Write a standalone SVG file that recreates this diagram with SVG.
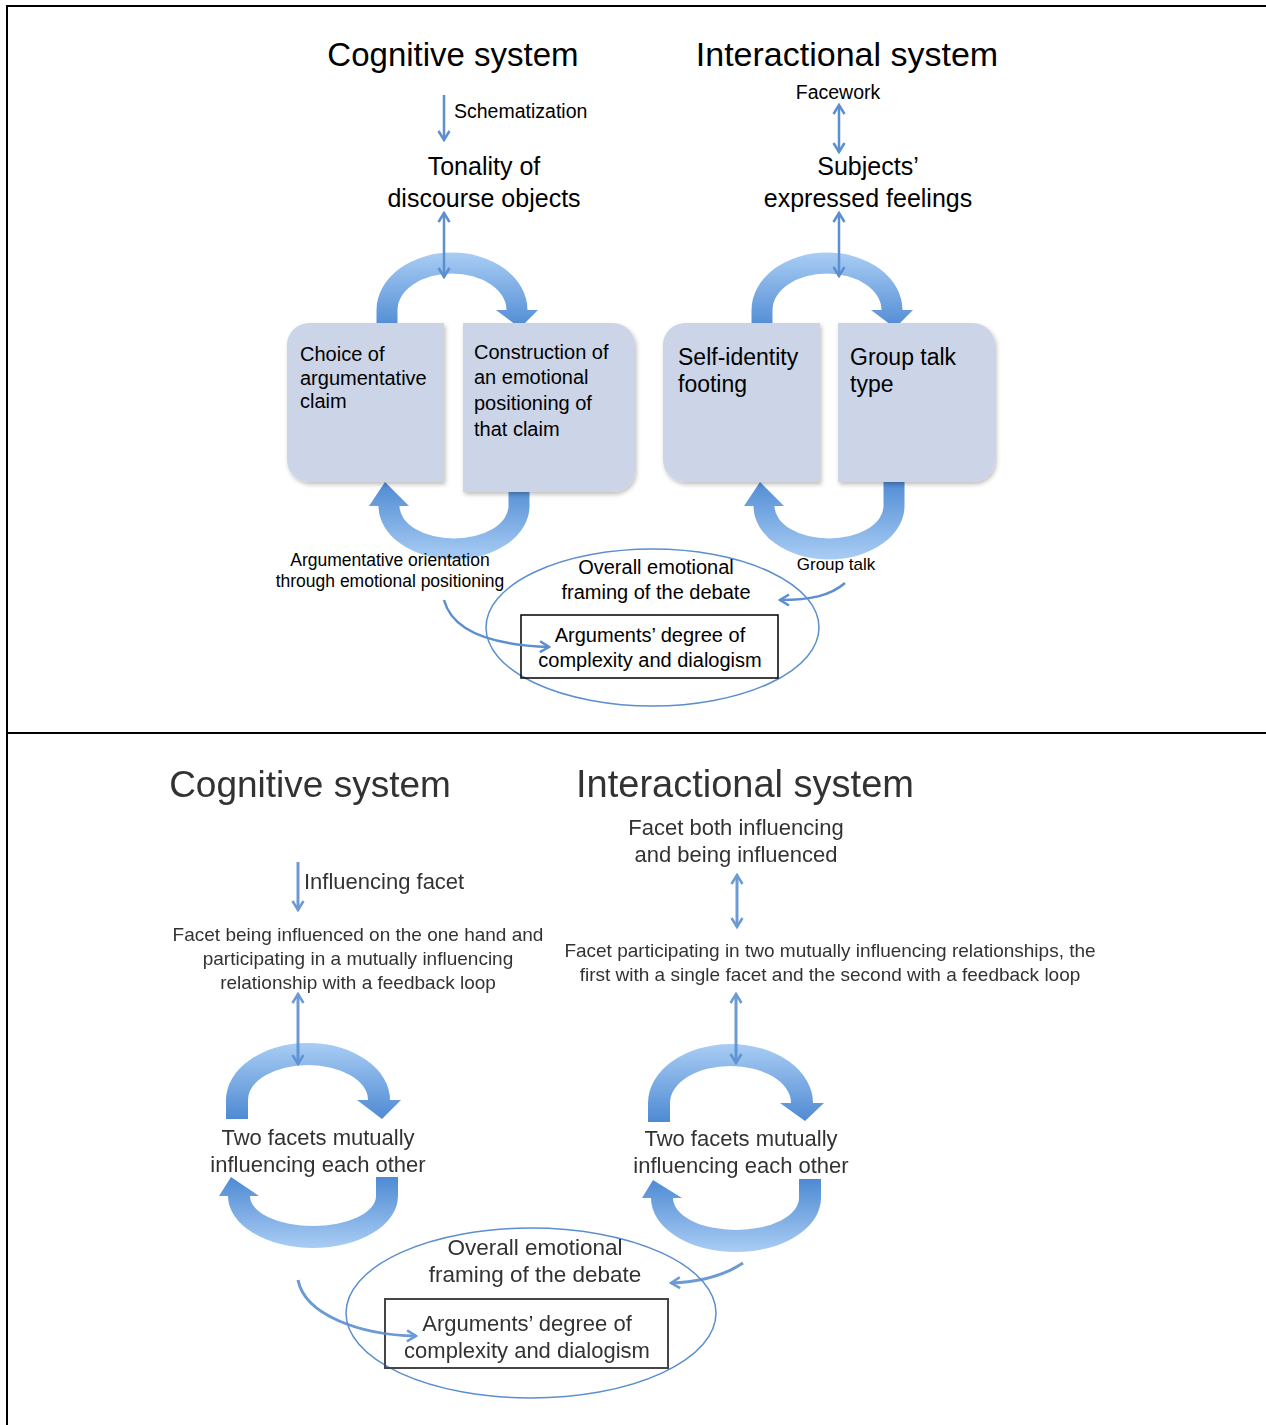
<svg xmlns="http://www.w3.org/2000/svg" width="1266" height="1425" viewBox="0 0 1266 1425">
<style>
  .t { font-family: "Liberation Sans", Arial, sans-serif; fill: #000; }
  .g { font-family: "Liberation Sans", Arial, sans-serif; fill: #333; }
  .m { text-anchor: middle; }
  .frame { stroke: #000; stroke-width: 2; fill: none; }
  .thin { stroke: #5b8fd0; stroke-width: 2.5; fill: none; }
  .thinb { stroke: #5b8fd0; stroke-width: 3; fill: none; opacity: .9; }
  .box { fill: #ccd5e8; filter: url(#sh); }
  .arcT { fill: url(#gT); }
  .arcB { fill: url(#gB); }
  .ell { fill: none; stroke: #5b8fd0; stroke-width: 1.5; }
  .rect { fill: none; stroke: #000; stroke-width: 1.5; }
  .rectb { fill: none; stroke: #444; stroke-width: 2; }
</style>
<defs>
  <linearGradient id="gT" x1="0" y1="0" x2="0" y2="1">
    <stop offset="0" stop-color="#a9cdf4"/>
    <stop offset="1" stop-color="#4e8ad3"/>
  </linearGradient>
  <linearGradient id="gB" x1="0" y1="0" x2="0" y2="1">
    <stop offset="0" stop-color="#4e8ad3"/>
    <stop offset="1" stop-color="#a9cdf4"/>
  </linearGradient>
  <filter id="sh" x="-10%" y="-10%" width="125%" height="125%">
    <feDropShadow dx="1.5" dy="2.5" stdDeviation="2" flood-color="#000" flood-opacity="0.25"/>
  </filter>
  <filter id="soft" x="-5%" y="-5%" width="110%" height="110%">
    <feGaussianBlur stdDeviation="0.55"/>
  </filter>
  <marker id="ah" viewBox="0 0 14 14" refX="12" refY="7" markerWidth="14" markerHeight="14" markerUnits="userSpaceOnUse" orient="auto-start-reverse">
    <path d="M3,1.5 L12,7 L3,12.5" fill="none" stroke="#5b8fd0" stroke-width="2.5"/>
  </marker>
</defs>
<rect width="1266" height="1425" fill="#fff"/>

<g id="frame">
  <line class="frame" x1="6" y1="6" x2="1266" y2="6"/>
  <line class="frame" x1="7" y1="5" x2="7" y2="1425"/>
  <line class="frame" x1="7" y1="733" x2="1266" y2="733"/>
</g>

<!-- TOP PANEL -->
<g id="cycle-arrows-top">
  <path class="arcT" d="M376.5 330 L376.5 310 A75.5 57.5 0 0 1 527.5 310 L538 310 L520 328 L496 310 L506.5 310 A54.5 36.5 0 0 0 397.5 310 L397.5 330 Z"/>
  <path class="arcB" d="M529.5 483 L529.5 506 A75.5 53.5 0 0 1 378.5 506 L369 506 L385 482 L409 506 L399.5 506 A54.5 32.5 0 0 0 508.5 506 L508.5 483 Z"/>
  <path class="arcT" d="M751.5 330 L751.5 310 A75.5 57.5 0 0 1 902.5 310 L913 310 L895 328 L871 310 L881.5 310 A54.5 36.5 0 0 0 772.5 310 L772.5 330 Z"/>
  <path class="arcB" d="M904.5 478 L904.5 506 A75.5 53.5 0 0 1 753.5 506 L744 506 L760 482 L784 506 L774.5 506 A54.5 32.5 0 0 0 883.5 506 L883.5 478 Z"/>
</g>

<g id="choice-box">
  <path class="box" d="M309 323 L444 323 L444 482 L309 482 A22 22 0 0 1 287 460 L287 345 A22 22 0 0 1 309 323 Z"/>
  <text class="t" font-size="20" x="300" y="361">Choice of</text>
  <text class="t" font-size="20" x="300" y="385">argumentative</text>
  <text class="t" font-size="20" x="300" y="408">claim</text>
</g>
<g id="construction-box">
  <path class="box" d="M463 323 L613 323 A22 22 0 0 1 635 345 L635 470 A22 22 0 0 1 613 492 L463 492 Z"/>
  <text class="t" font-size="20" x="474" y="359">Construction of</text>
  <text class="t" font-size="20" x="474" y="384">an emotional</text>
  <text class="t" font-size="20" x="474" y="410">positioning of</text>
  <text class="t" font-size="20" x="474" y="436">that claim</text>
</g>
<g id="self-identity-box">
  <path class="box" d="M685 323 L820 323 L820 482 L685 482 A22 22 0 0 1 663 460 L663 345 A22 22 0 0 1 685 323 Z"/>
  <text class="t" font-size="23" x="678" y="365">Self-identity</text>
  <text class="t" font-size="23" x="678" y="392">footing</text>
</g>
<g id="group-talk-box">
  <path class="box" d="M838 323 L973 323 A22 22 0 0 1 995 345 L995 460 A22 22 0 0 1 973 482 L838 482 Z"/>
  <text class="t" font-size="23" x="850" y="365">Group talk</text>
  <text class="t" font-size="23" x="850" y="392">type</text>
</g>

<g id="titles-top">
  <text class="t m" font-size="33" x="453" y="66">Cognitive system</text>
  <text class="t m" font-size="34" x="847" y="66">Interactional system</text>
</g>
<g id="schematization"><text class="t" font-size="19.5" x="454" y="118">Schematization</text></g>
<g id="tonality">
  <text class="t m" font-size="25" x="484" y="175">Tonality of</text>
  <text class="t m" font-size="25" x="484" y="207">discourse objects</text>
</g>
<g id="facework"><text class="t m" font-size="19.5" x="838" y="99">Facework</text></g>
<g id="subjects">
  <text class="t m" font-size="25" x="868" y="175">Subjects’</text>
  <text class="t m" font-size="25" x="868" y="207">expressed feelings</text>
</g>
<g id="arg-orientation">
  <text class="t m" font-size="17.5" x="390" y="566">Argumentative orientation</text>
  <text class="t m" font-size="17.5" x="390" y="587">through emotional positioning</text>
</g>
<g id="group-talk-label"><text class="t m" font-size="17" x="836" y="570">Group talk</text></g>
<g id="framing-top">
  <ellipse class="ell" cx="652.5" cy="627.5" rx="166.5" ry="78.5"/>
  <text class="t m" font-size="20" x="656" y="574">Overall emotional</text>
  <text class="t m" font-size="20" x="656" y="599">framing of the debate</text>
</g>
<g id="arguments-top">
  <rect class="rect" x="521" y="615" width="257" height="63"/>
  <text class="t m" font-size="20" x="650" y="642">Arguments’ degree of</text>
  <text class="t m" font-size="20" x="650" y="667">complexity and dialogism</text>
</g>

<g id="connectors-top">
  <line class="thin" x1="444" y1="95" x2="444" y2="140" marker-end="url(#ah)"/>
  <line class="thin" x1="444" y1="213" x2="444" y2="277" marker-start="url(#ah)" marker-end="url(#ah)"/>
  <line class="thin" x1="839" y1="105" x2="839" y2="152" marker-start="url(#ah)" marker-end="url(#ah)"/>
  <line class="thin" x1="839" y1="213" x2="839" y2="276" marker-start="url(#ah)" marker-end="url(#ah)"/>
  <path class="thin" d="M444 600 C452 630 490 645 549 647" marker-end="url(#ah)"/>
  <path class="thin" d="M845 583 C830 596 810 600 780 600" marker-end="url(#ah)"/>
</g>

<!-- BOTTOM PANEL -->
<g id="bottom-panel" filter="url(#soft)">
<g id="cycle-arrows-bottom">
  <path class="arcT" d="M226 1119 L226 1100 A82 57 0 0 1 390 1100 L401 1100 L382 1119 L357 1100 L368 1100 A60 35 0 0 0 248 1100 L248 1119 Z"/>
  <path class="arcB" d="M398 1177 L398 1196 A85 52 0 0 1 228 1196 L219 1196 L231 1177 L259 1196 L250 1196 A63 30 0 0 0 376 1196 L376 1177 Z"/>
  <path class="arcT" d="M648 1122 L648 1103 A82.5 59 0 0 1 813 1103 L824 1103 L805 1121 L780 1103 L791 1103 A60.5 37 0 0 0 670 1103 L670 1122 Z"/>
  <path class="arcB" d="M821 1179 L821 1198 A85 54 0 0 1 651 1198 L642 1198 L653 1180 L682 1198 L673 1198 A63 32 0 0 0 799 1198 L799 1179 Z"/>
</g>

<g id="titles-bottom">
  <text class="g m" font-size="37" x="310" y="797">Cognitive system</text>
  <text class="g m" font-size="38" x="745" y="797">Interactional system</text>
</g>
<g id="facet-both">
  <text class="g m" font-size="22" x="736" y="835">Facet both influencing</text>
  <text class="g m" font-size="22" x="736" y="862">and being influenced</text>
</g>
<g id="influencing-facet"><text class="g" font-size="22" x="304" y="889">Influencing facet</text></g>
<g id="facet-being-influenced">
  <text class="g m" font-size="19" x="358" y="941">Facet being influenced on the one hand and</text>
  <text class="g m" font-size="19" x="358" y="965">participating in a mutually influencing</text>
  <text class="g m" font-size="19" x="358" y="989">relationship with a feedback loop</text>
</g>
<g id="facet-participating">
  <text class="g m" font-size="19" x="830" y="957">Facet participating in two mutually influencing relationships, the</text>
  <text class="g m" font-size="19" x="830" y="981">first with a single facet and the second with a feedback loop</text>
</g>
<g id="two-facets-left">
  <text class="g m" font-size="22" x="318" y="1145">Two facets mutually</text>
  <text class="g m" font-size="22" x="318" y="1172">influencing each other</text>
</g>
<g id="two-facets-right">
  <text class="g m" font-size="22" x="741" y="1146">Two facets mutually</text>
  <text class="g m" font-size="22" x="741" y="1173">influencing each other</text>
</g>
<g id="framing-bottom">
  <ellipse class="ell" cx="531" cy="1313" rx="185" ry="85"/>
  <text class="g m" font-size="22.5" x="535" y="1255">Overall emotional</text>
  <text class="g m" font-size="22.5" x="535" y="1282">framing of the debate</text>
</g>
<g id="arguments-bottom">
  <rect class="rectb" x="385" y="1299" width="283" height="69"/>
  <text class="g m" font-size="22" x="527" y="1331">Arguments’ degree of</text>
  <text class="g m" font-size="22" x="527" y="1358">complexity and dialogism</text>
</g>

<g id="connectors-bottom">
  <line class="thinb" x1="298" y1="862" x2="298" y2="910" marker-end="url(#ah)"/>
  <line class="thinb" x1="737" y1="875" x2="737" y2="927" marker-start="url(#ah)" marker-end="url(#ah)"/>
  <line class="thinb" x1="298" y1="994" x2="298" y2="1064" marker-start="url(#ah)" marker-end="url(#ah)"/>
  <line class="thinb" x1="736" y1="994" x2="736" y2="1063" marker-start="url(#ah)" marker-end="url(#ah)"/>
  <path class="thinb" d="M298 1280 C305 1315 360 1335 416 1336" marker-end="url(#ah)"/>
  <path class="thinb" d="M743 1263 C725 1275 700 1282 671 1283" marker-end="url(#ah)"/>
</g>
</g>
</svg>
